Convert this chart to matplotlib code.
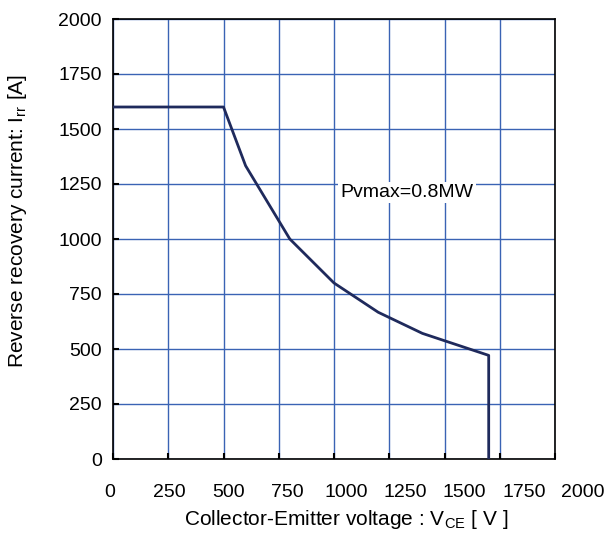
import matplotlib.pyplot as plt
import numpy as np

plt.rcParams['font.family'] = ['Liberation Sans', 'DejaVu Sans']

# 逆回復安全動作領域 (RRSOA)
Vce = [0, 500, 600, 800, 1000, 1200, 1400, 1700, 1700]
Irr = [1600, 1600, 1333, 1000, 800, 667, 571, 471, 0]
ticks = [0, 250, 500, 750, 1000, 1250, 1500, 1750, 2000]

fig = plt.figure(figsize=(6.1, 5.36), dpi=100)
ax = fig.add_axes([113 / 610, 77 / 536, 442 / 610, 440 / 536])

ax.plot(Vce, Irr, color="#1f2a5c", lw=2.0, zorder=3)
ax.set_xlim(0, 2000)
ax.set_ylim(0, 2000)
ax.set_xticks(ticks)
ax.set_yticks(ticks)
ax.set_xticklabels([])
ax.grid(True, color="#3a63b4", lw=1.0)
ax.tick_params(direction="in", length=4, width=1.5, color="black", labelsize=14, pad=8)
for s in ax.spines.values():
    s.set_linewidth(1.2)
    s.set_color("black")

ax.text(1030, 1210, "Pvmax=0.8MW", fontsize=14, va="center", ha="left",
        bbox=dict(facecolor="white", edgecolor="none", pad=1.5), zorder=2)
ax.set_ylabel(r"Reverse recovery current: I$\mathregular{_{rr}}$ [A]", fontsize=15)
ax.yaxis.set_label_coords(-0.19, 0.54)

# x軸ラベル（目盛りラベルは格子からずれている）
ax2 = fig.add_axes([110 / 610, 77 / 536, 473 / 610, 0.001])
ax2.set_xlim(0, 2000)
ax2.set_xticks(ticks)
ax2.set_yticks([])
ax2.patch.set_visible(False)
for s in ax2.spines.values():
    s.set_visible(False)
ax2.tick_params(length=0, labelsize=14, pad=18)
ax2.set_xlabel(r"Collector-Emitter voltage : V$\mathregular{_{CE}}$ [ V ]", fontsize=15, labelpad=5)

fig.savefig("out.png")
